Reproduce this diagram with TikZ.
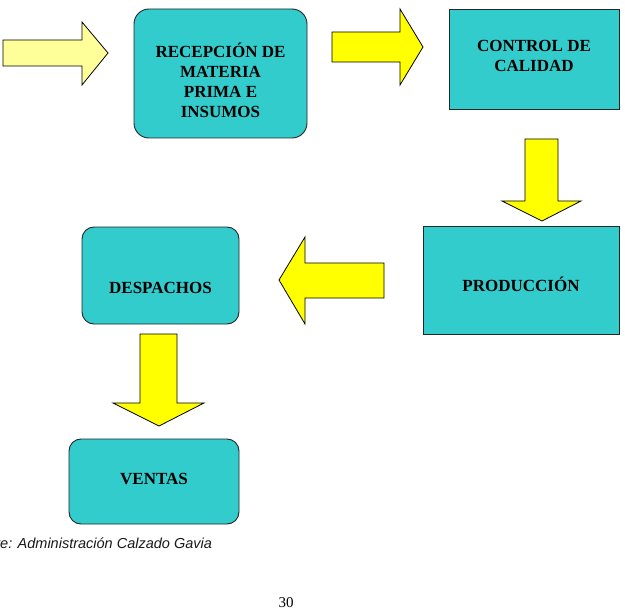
\documentclass[tikz,border=0pt]{standalone}
\usepackage{fontspec}
\setmainfont{Liberation Serif}
\newfontfamily\capfont{Liberation Sans}
\usepackage{tikz}
\definecolor{teal1}{HTML}{33CCCC}
\definecolor{paleyel}{HTML}{FFFF99}
\definecolor{yel}{HTML}{FFFF00}

\begin{document}
\begin{tikzpicture}[x=1pt, y=-1pt,
  box/.style={draw=black!85, line width=0.9pt, fill=teal1, inner sep=0pt},
  boxtext/.style={font=\fontsize{17}{20}\selectfont\bfseries, align=center, text=black},
  blockarrow/.style={draw=black, line width=0.8pt, fill=yel, line join=miter}]
\useasboundingbox (0,0) rectangle (625,610);
% process boxes
\node[box, rounded corners=15pt, minimum width=173pt, minimum height=129pt] (recep) at (220.5,73.5) {};
\node[boxtext] (recepT) at (220.5,80.5) {RECEPCIÓN DE\\MATERIA\\PRIMA E\\INSUMOS};
\node[box, minimum width=170pt, minimum height=100pt] (control) at (534,59) {};
\node[boxtext] (controlT) at (534,56) {CONTROL DE\\CALIDAD};
\node[box, minimum width=196pt, minimum height=108pt] (prod) at (521,280) {};
\node[boxtext] (prodT) at (521,284) {PRODUCCIÓN};
\node[box, rounded corners=12pt, minimum width=157pt, minimum height=97pt] (desp) at (160.5,275.5) {};
\node[boxtext] (despT) at (160.5,288) {DESPACHOS};
\node[box, rounded corners=12pt, minimum width=170pt, minimum height=85pt] (ventas) at (154,481.5) {};
\node[boxtext] (ventasT) at (154,479) {VENTAS};
% block arrows
\draw[blockarrow, fill=paleyel] (3,40) -- (82,40) -- (82,22) -- (108,53) -- (82,85) -- (82,66) -- (3,66) -- cycle;
\draw[blockarrow] (332,32) -- (400,32) -- (400,9) -- (423,47) -- (400,85) -- (400,62) -- (332,62) -- cycle;
\draw[blockarrow] (525,139) -- (558,139) -- (558,201) -- (581,201) -- (542,221) -- (502,201) -- (525,201) -- cycle;
\draw[blockarrow] (384,263) -- (305,263) -- (305,237) -- (279,280) -- (305,324) -- (305,298) -- (384,298) -- cycle;
\draw[blockarrow] (140,334) -- (177,334) -- (177,403) -- (204,403) -- (159,426) -- (113,403) -- (140,403) -- cycle;
% source and page number
\node[font=\capfont\itshape\fontsize{14.5}{16}\selectfont, anchor=west, inner sep=0pt, text=black!90] (fuente) at (-4,543) {te: Administración Calzado Gavia};
\node[font=\fontsize{15}{17}\selectfont, inner sep=0pt] (pagina) at (286,603) {30};
\end{tikzpicture}
\end{document}
